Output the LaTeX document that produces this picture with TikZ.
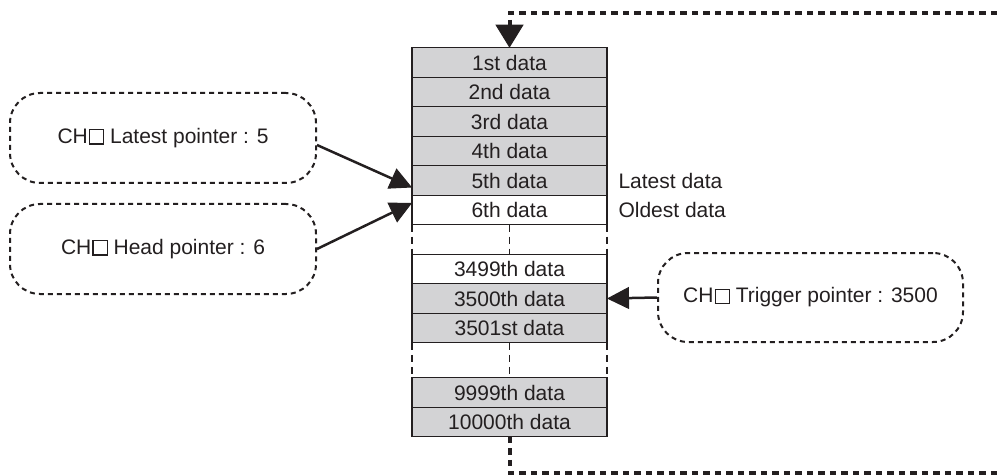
\documentclass[tikz,border=0pt]{standalone}
\usepackage{fontspec}
\setmainfont{Liberation Sans}
\usepackage{tikz}
\usetikzlibrary{arrows.meta,positioning}
\definecolor{linegray}{HTML}{231F20}
\definecolor{cellgray}{HTML}{D3D3D5}
\newcommand{\cuadro}{{\kern1pt\setlength{\fboxsep}{0pt}\setlength{\fboxrule}{1.2pt}%
  \fbox{\rule{0pt}{13pt}\hspace{13pt}}}}

\begin{document}
\begin{tikzpicture}[x=1pt,y=-1pt,
  font=\fontsize{21}{25}\selectfont,
  celda/.style={draw=linegray,line width=1.4pt,minimum width=195pt,
    minimum height=29.5pt,inner sep=0pt,outer sep=0pt,text=linegray},
  gris/.style={celda,fill=cellgray},
  blanca/.style={celda,fill=white},
  puntero/.style={draw=linegray,line width=2pt,dash pattern=on 5pt off 4pt,
    rounded corners=30pt,minimum width=306pt,minimum height=90pt,text=linegray},
  hueco/.style={draw=linegray,line width=1.2pt,dash pattern=on 7pt off 5pt},
  flecha/.style={draw=linegray,line width=2.5pt,
    -{Triangle[length=22pt,width=22pt,line width=1pt]}},
  bucle/.style={draw=linegray,line width=4pt,dash pattern=on 6.5pt off 5pt}]
  \useasboundingbox (0,0) rectangle (997,476);
  % bloque de datos
  \node[gris] (d1) at (509.5,62.5) {1st data};
  \node[gris,below=0pt of d1] (d2) {2nd data};
  \node[gris,below=0pt of d2] (d3) {3rd data};
  \node[gris,below=0pt of d3] (d4) {4th data};
  \node[gris,below=0pt of d4] (d5) {5th data};
  \node[blanca,below=0pt of d5] (d6) {6th data};
  \node[blanca,below=29.5pt of d6] (d3499) {3499th data};
  \node[gris,below=0pt of d3499] (d3500) {3500th data};
  \node[gris,below=0pt of d3500] (d3501) {3501st data};
  \node[gris,below=35pt of d3501] (d9999) {9999th data};
  \node[gris,below=0pt of d9999] (d10000) {10000th data};
  % huecos
  \foreach \a/\b in {d6/d3499,d3501/d9999}{
    \draw[hueco] (\a.south west) -- (\b.north west);
    \draw[hueco] (\a.south) -- (\b.north);
    \draw[hueco] (\a.south east) -- (\b.north east);
  }
  \node[right=8pt of d5,text=linegray] (ultimo) {Latest data};
  \node[right=8pt of d6,text=linegray] (antiguo) {Oldest data};
  % punteros
  \node[puntero] (pLatest) at (163,138) {CH\cuadro\ Latest pointer : 5};
  \node[puntero] (pHead) at (163,249) {CH\cuadro\ Head pointer : 6};
  \node[puntero,minimum width=305pt,minimum height=89pt] (pTrig)
    at (810.5,297.5) {CH\cuadro\ Trigger pointer : 3500};
  \draw[flecha] ([yshift=-7pt]pLatest.east) -- ([yshift=-7pt]d5.west);
  \draw[flecha] (pHead.east) -- ([yshift=7pt]d6.west);
  \draw[flecha] (pTrig.west) -- (d3500.east);
  % vuelta al principio
  \coordinate (arriba) at (997,13);
  \coordinate (abajo) at (997,473);
  \draw[bucle,-{Triangle[length=23pt,width=28pt,line width=1pt]}]
    (arriba) -| (d1.north);
  \draw[bucle] (d10000.south) |- (abajo);
\end{tikzpicture}
\end{document}
